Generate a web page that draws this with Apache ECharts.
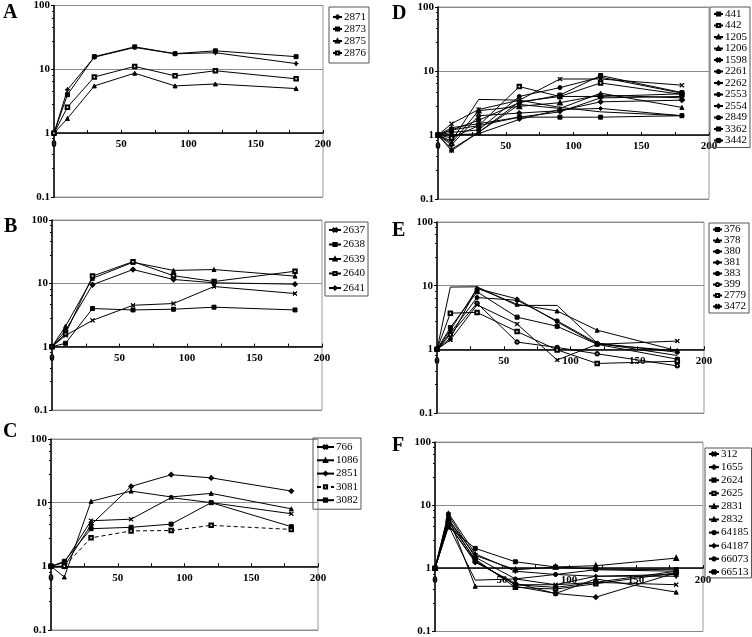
<!DOCTYPE html>
<html><head><meta charset="utf-8">
<script src="https://cdn.jsdelivr.net/npm/echarts@6/dist/echarts.min.js"></script>
<style>html,body{margin:0;padding:0;background:#fff}#c{width:752px;height:637px}</style>
</head><body><div id="c"></div>
<script>
// ---- data ----
const times = [0, 10, 30, 60, 90, 120, 180];
const xTicks = [0, 50, 100, 150, 200];
const yTicks = [0.1, 1, 10, 100];

const namesA = ['2871', '2873', '2875', '2876'];
const valuesA = [
  [1, 4.8, 15.5, 22, 17.5, 18.2, 12.3],
  [1, 4.0, 15.8, 22.5, 17.6, 19.5, 15.8],
  [1, 1.7, 5.5, 8.7, 5.5, 5.9, 5.0],
  [1, 2.55, 7.6, 11.1, 7.9, 9.5, 7.1]
];
const namesB = ['2637', '2638', '2639', '2640', '2641'];
const valuesB = [
  [1, 1.5, 2.6, 4.5, 4.8, 8.9, 6.9],
  [1, 1.13, 4.0, 3.8, 3.9, 4.2, 3.8],
  [1, 2.1, 12.0, 21.5, 16.0, 16.5, 13.0],
  [1, 1.6, 13.0, 22.0, 13.2, 10.7, 15.5],
  [1, 1.8, 9.5, 16.5, 11.5, 10.2, 9.7]
];
const namesC = ['766', '1086', '2851', '3081', '3082'];
const valuesC = [
  [1, 1.15, 5.2, 5.5, 12.0, 10.0, 6.7],
  [1, 0.68, 10.5, 15.2, 12.3, 14.0, 8.0],
  [1, 1.0, 4.5, 18.0, 27.5, 24.5, 15.2],
  [1, 1.0, 2.8, 3.6, 3.65, 4.4, 3.8],
  [1, 1.2, 3.9, 4.1, 4.6, 10.0, 4.2]
];
const namesD = ['441', '442', '1205', '1206', '1598', '2261', '2262', '2553', '2554', '2849', '3362', '3442'];
const valuesD = [
  [1, 1.2, 1.7, 3.2, 4.2, 8.5, 4.6],
  [1, 0.9, 1.4, 5.7, 4.0, 6.5, 4.3],
  [1, 0.6, 1.1, 3.0, 2.6, 4.5, 2.7],
  [1, 0.75, 2.4, 2.8, 3.2, 4.2, 3.8],
  [1, 1.5, 2.5, 3.5, 7.5, 7.5, 6.0],
  [1, 1.1, 1.2, 4.0, 5.5, 8.0, 4.5],
  [1, 0.7, 2.0, 2.2, 2.4, 3.3, 3.5],
  [1, 1.3, 1.5, 1.9, 2.3, 3.8, 4.0],
  [1, 1.0, 1.05, 1.75, 2.5, 2.6, 2.0],
  [1, 0.8, 3.6, 3.5, 2.7, 2.3, 2.0],
  [1, 1.2, 1.4, 1.9, 1.9, 1.9, 2.0],
  [1, 0.57, 1.1, 3.3, 4.0, 4.0, 4.4]
];
const namesE = ['376', '378', '380', '381', '383', '399', '2779', '3472'];
const valuesE = [
  [1, 2.2, 8.0, 3.2, 2.3, 1.2, 0.7],
  [1, 1.5, 9.2, 5.1, 4.0, 2.0, 0.95],
  [1, 1.8, 6.5, 5.9, 2.8, 1.25, 0.9],
  [1, 2.0, 9.0, 6.2, 2.7, 1.2, 0.95],
  [1, 9.5, 9.6, 4.9, 4.9, 1.25, 0.8],
  [1, 1.7, 5.3, 1.3, 1.07, 0.85, 0.55],
  [1, 3.7, 3.8, 1.9, 0.98, 0.6, 0.65],
  [1, 1.4, 5.0, 2.5, 0.68, 1.2, 1.35]
];
const namesF = ['312', '1655', '2624', '2625', '2831', '2832', '64185', '64187', '66073', '66513'];
const valuesF = [
  [1, 5.0, 1.3, 0.55, 0.55, 0.6, 0.55],
  [1, 7.5, 1.7, 0.9, 0.8, 0.75, 0.75],
  [1, 4.5, 2.07, 1.27, 1.05, 0.97, 0.95],
  [1, 5.5, 1.4, 0.5, 0.47, 0.57, 0.85],
  [1, 6.6, 0.52, 0.52, 0.4, 0.68, 0.42],
  [1, 6.0, 1.6, 0.95, 1.05, 1.1, 1.45],
  [1, 7.0, 1.5, 0.68, 0.8, 0.95, 0.9],
  [1, 5.0, 1.25, 0.58, 0.4, 0.35, 0.85],
  [1, 4.8, 0.65, 0.68, 0.55, 0.75, 0.8],
  [1, 6.2, 1.32, 0.55, 0.5, 0.6, 0.9]
];

// ---- symbols ----
const X = 'path://M0,1L1,0L5,4L9,0L10,1L6,5L10,9L9,10L5,6L1,10L0,9L4,5Z';
const PLUS = 'path://M4,0H6V4H10V6H6V10H4V6H0V4H4Z';
const STAR = 'path://M4.4,0H5.6V4.4H10V5.6H5.6V10H4.4V5.6H0V4.4H4.4Z M0,0.8L0.8,0L5,4.2L9.2,0L10,0.8L5.8,5L10,9.2L9.2,10L5,5.8L0.8,10L0,9.2L4.2,5Z';
const DASH = 'path://M0,4H10V6H0Z';

const panels = [
  {key:'A', names:namesA, values:valuesA, grid:{left:54,top:5,width:269,height:192},
   sym:[PLUS,'rect','triangle','emptyRect'], dash:[],
   legend:{left:329,top:7,lh:12,gap:0,iw:9,pad:[4,3,4,3]}, title:{left:3,top:3}},
  {key:'B', names:namesB, values:valuesB, grid:{left:52,top:220,width:270,height:190},
   sym:[X,'rect','triangle','emptyRect','emptyDiamond'], dash:[],
   legend:{left:325,top:222,lh:12,gap:2.5,iw:12,pad:[2,3,2,3]}, title:{left:4,top:217}},
  {key:'C', names:namesC, values:valuesC, grid:{left:51,top:439,width:267,height:191},
   sym:[X,'triangle','emptyDiamond','emptyRect','rect'], dash:[3],
   legend:{left:313,top:438,lh:12,gap:1.3,iw:17,pad:[3,3,3,3]}, title:{left:3,top:422}},
  {key:'D', names:namesD, values:valuesD, grid:{left:438,top:7,width:271,height:192},
   sym:['rect','emptyRect','triangle','emptyTriangle',X,'circle','emptyDiamond',PLUS,'diamond','none',DASH,STAR], dash:[],
   legend:{left:710,top:7,lh:11,gap:0.5,iw:9,pad:[1.5,3,1.5,3]}, title:{left:392,top:4}},
  {key:'E', names:namesE, values:valuesE, grid:{left:437,top:222,width:267,height:191},
   sym:['rect','triangle','circle','diamond','none','emptyCircle','emptyRect',X], dash:[],
   legend:{left:709,top:223,lh:10,gap:0,iw:9,pad:[1,3,1,3]}, title:{left:392,top:221}},
  {key:'F', names:namesF, values:valuesF, grid:{left:435,top:442,width:268,height:190},
   sym:[X,PLUS,'rect','emptyRect','triangle','emptyTriangle','circle','emptyDiamond','none',STAR], dash:[],
   legend:{left:705,top:448,lh:12,gap:1.1,iw:10,pad:[0,3,0,3]}, title:{left:392,top:436}}
];

const serif = '"Liberation Serif","DejaVu Serif",serif';
const option = {animation:false, backgroundColor:'#fff', grid:[], xAxis:[], yAxis:[], series:[], legend:[], title:[]};

panels.forEach((p, i) => {
  option.grid.push(Object.assign({show:true, borderColor:'#9a9a9a', borderWidth:1, backgroundColor:'transparent'}, p.grid));
  option.xAxis.push({
    type:'value', gridIndex:i, min:xTicks[0], max:xTicks[xTicks.length-1], interval:25,
    position:'bottom', offset:-p.grid.height/3,
    axisLine:{show:true, lineStyle:{color:'#000', width:1.5}},
    axisTick:{show:true, length:3, inside:true, lineStyle:{color:'#000'}},
    axisLabel:{show:true, margin:6, color:'#000', fontFamily:serif, fontWeight:'bold', fontSize:11,
      formatter:v => xTicks.indexOf(v) >= 0 ? String(v) : ''},
    splitLine:{show:false}
  });
  option.yAxis.push({
    type:'log', logBase:10, gridIndex:i, min:yTicks[0], max:yTicks[yTicks.length-1],
    axisLine:{show:true, lineStyle:{color:'#000', width:1.5}},
    axisTick:{show:true, length:3, lineStyle:{color:'#000'}},
    minorTick:{show:true, splitNumber:5, length:2, lineStyle:{color:'#000'}},
    axisLabel:{margin:4, color:'#000', fontFamily:serif, fontWeight:'bold', fontSize:11,
      formatter:v => v < 1 ? v.toFixed(1) : String(Math.round(v))},
    splitLine:{show:true, lineStyle:{color:'#8a8a8a', width:1}}
  });
  p.names.forEach((n, k) => {
    const s = p.sym[k];
    const empty = typeof s === 'string' && s.indexOf('empty') === 0;
    option.series.push({
      type:'line', name:n, xAxisIndex:i, yAxisIndex:i,
      data: times.map((t, j) => [t, p.values[k][j]]),
      symbol:s, symbolSize: empty ? 3.5 : 4, showSymbol:true,
      lineStyle:{color:'#000', width:1, type: p.dash.indexOf(k) >= 0 ? [4,3] : 'solid'},
      itemStyle:{color:'#000', borderColor:'#000', borderWidth:1},
      emphasis:{disabled:true}
    });
  });
  const L = p.legend;
  option.legend.push({
    data:p.names.slice(), orient:'vertical', left:L.left, top:L.top,
    padding:L.pad, itemGap:L.gap, itemWidth:L.iw, itemHeight:4,
    borderColor:'#555', borderWidth:1, borderRadius:0, backgroundColor:'transparent',
    selectedMode:false,
    textStyle:{color:'#000', fontFamily:serif, fontSize:11, lineHeight:L.lh, padding:[0,0,0,-3]}
  });
  option.title.push({text:p.key, left:p.title.left, top:p.title.top, padding:0,
    textStyle:{fontFamily:serif, fontWeight:'bold', fontSize:20, color:'#000'}});
});

const chart = echarts.init(document.getElementById('c'), null, {renderer:'canvas'});
chart.setOption(option);
</script>
</body></html>
